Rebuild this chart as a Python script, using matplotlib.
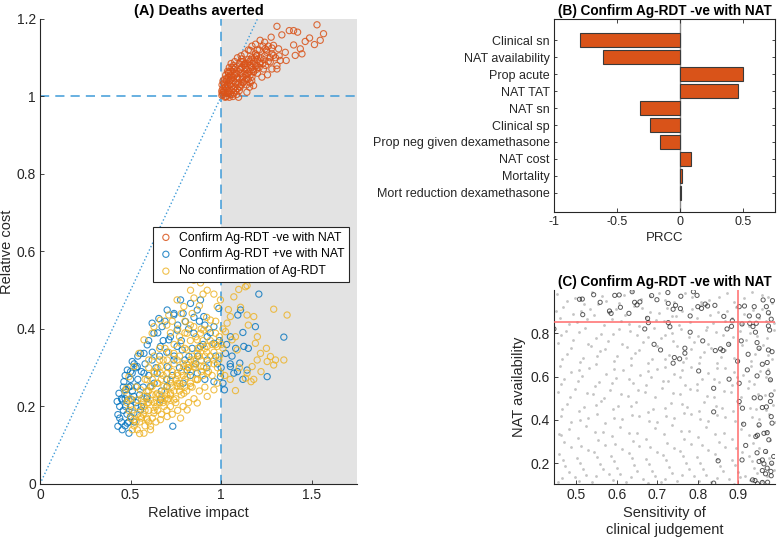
import numpy as np
import matplotlib
matplotlib.use("Agg")
import matplotlib.pyplot as plt

plt.rcParams['font.family'] = ['Liberation Sans', 'DejaVu Sans']
plt.rcParams['font.size'] = 10

# ---- Panel A: deaths averted (relative impact, relative cost) ----
orange_pts = [
    (1.308, 1.181), (1.529, 1.185), (1.376, 1.170), (1.400, 1.170), (1.422, 1.166),
    (1.335, 1.159), (1.565, 1.162), (1.547, 1.145), (1.488, 1.151), (1.464, 1.142),
    (1.515, 1.134), (1.400, 1.133), (1.437, 1.123), (1.409, 1.106), (1.446, 1.110),
    (1.354, 1.114), (1.359, 1.093), (1.326, 1.093), (1.308, 1.080), (1.280, 1.071),
    (1.215, 1.145), (1.276, 1.153), (1.289, 1.132), (1.243, 1.123), (1.160, 1.119),
    (1.197, 1.106), (1.133, 1.084), (1.105, 1.071), (1.077, 1.058), (1.050, 1.041),
    (1.022, 1.024), (1.013, 1.011), (1.096, 0.998), (1.157, 1.024), (1.225, 1.050),
    (1.256, 1.056), (1.308, 1.071), (1.179, 1.063), (1.123, 1.037), (1.068, 1.020),
    (1.041, 1.007), (1.004, 1.003), (1.215, 1.089), (1.142, 1.058), (1.087, 1.046),
    (1.289, 1.106), (1.252, 1.114), (1.317, 1.123), (1.271, 1.089), (1.197, 1.080),
    (1.114, 1.097), (1.068, 1.080), (1.041, 1.063), (1.031, 1.046), (1.059, 1.033),
    (1.105, 1.024), (1.169, 1.041), (1.234, 1.071), (1.004, 1.015), (1.022, 0.998),
    (1.142, 1.011), (1.179, 1.028),
    (1.010, 1.005), (1.020, 1.010), (1.030, 1.020), (1.040, 1.015), (1.050, 1.030),
    (1.060, 1.025), (1.070, 1.040), (1.080, 1.035), (1.090, 1.050), (1.100, 1.045),
    (1.110, 1.060), (1.120, 1.050), (1.130, 1.065), (1.140, 1.070), (1.150, 1.060),
    (1.160, 1.080), (1.170, 1.075), (1.180, 1.090), (1.190, 1.080), (1.200, 1.095),
    (1.220, 1.100), (1.240, 1.105), (1.020, 1.030), (1.030, 1.040), (1.040, 1.050),
    (1.050, 1.055), (1.060, 1.065), (1.080, 1.075), (1.100, 1.085), (1.120, 1.090),
    (1.030, 1.000), (1.050, 1.005), (1.070, 1.010), (1.090, 1.020), (1.110, 1.030),
    (1.130, 1.040), (1.150, 1.045), (1.170, 1.050), (1.020, 1.045), (1.040, 1.060),
    (1.060, 1.075), (1.010, 1.020), (1.015, 1.035), (1.025, 1.000), (1.045, 0.998),
    (1.065, 1.000), (1.085, 1.005), (1.100, 1.015), (1.140, 1.030), (1.160, 1.035),
    (1.200, 1.060), (1.210, 1.075), (1.230, 1.085), (1.260, 1.090), (1.270, 1.100),
    (1.250, 1.120), (1.230, 1.130), (1.210, 1.120), (1.190, 1.110), (1.170, 1.100),
    (1.150, 1.095), (1.130, 1.085),
    (1.005, 1.010), (1.015, 1.015), (1.025, 1.025), (1.035, 1.030), (1.045, 1.040),
    (1.055, 1.045), (1.065, 1.050), (1.075, 1.055), (1.085, 1.060), (1.095, 1.065),
    (1.105, 1.070), (1.115, 1.075), (1.125, 1.080), (1.135, 1.075), (1.145, 1.085),
    (1.155, 1.090), (1.165, 1.095), (1.175, 1.085), (1.185, 1.100), (1.195, 1.105),
    (1.035, 1.010), (1.055, 1.015), (1.075, 1.025), (1.095, 1.035), (1.115, 1.045),
    (1.135, 1.055), (1.155, 1.065), (1.175, 1.070), (1.195, 1.070), (1.215, 1.085),
    (1.025, 1.055), (1.035, 1.065), (1.045, 1.075), (1.055, 1.085), (1.075, 1.090),
    (1.090, 1.100), (1.110, 1.105), (1.130, 1.110), (1.010, 1.040), (1.005, 1.030),
    (1.060, 1.005), (1.080, 1.015), (1.100, 1.025), (1.120, 1.035), (1.140, 1.045),
    (1.160, 1.055), (1.180, 1.065), (1.235, 1.095), (1.245, 1.080), (1.280, 1.110),
    (1.300, 1.100), (1.320, 1.105), (1.150, 1.120), (1.170, 1.130), (1.190, 1.135),
    (1.200, 1.120), (1.240, 1.140), (1.260, 1.130), (1.280, 1.125), (1.110, 1.090),
    (1.070, 1.070), (1.050, 1.065),
]

blue_pts = [
    (1.208, 0.490), (1.254, 0.277), (1.189, 0.406), (1.120, 0.391), (1.103, 0.312),
    (1.092, 0.436), (1.107, 0.449), (1.051, 0.380), (1.024, 0.337), (1.051, 0.303),
    (1.070, 0.286), (1.125, 0.355), (1.143, 0.294), (1.018, 0.243), (0.996, 0.277),
    (0.960, 0.264), (0.987, 0.453), (0.960, 0.363), (0.904, 0.432), (0.886, 0.475),
    (0.868, 0.449), (0.831, 0.466), (0.776, 0.475), (0.739, 0.436), (0.702, 0.449),
    (0.656, 0.427), (0.629, 0.389), (0.592, 0.359), (0.555, 0.337), (0.509, 0.316),
    (0.482, 0.294), (0.463, 0.264), (0.472, 0.243), (0.436, 0.234), (0.426, 0.213),
    (0.430, 0.179), (0.430, 0.149), (0.454, 0.140), (0.491, 0.131), (0.500, 0.174),
    (0.509, 0.217), (0.537, 0.252), (0.574, 0.286), (0.619, 0.320), (0.665, 0.355),
    (0.711, 0.372), (0.757, 0.397), (0.803, 0.419), (0.849, 0.389), (0.886, 0.355),
    (0.923, 0.320), (0.733, 0.149), (0.647, 0.286), (0.702, 0.252), (0.739, 0.320),
    (0.785, 0.346), (0.812, 0.294), (0.592, 0.226), (0.555, 0.191), (0.518, 0.183),
    (0.472, 0.200), (0.454, 0.217), (0.482, 0.157), (0.610, 0.252), (0.665, 0.217),
    (0.702, 0.303), (0.868, 0.286), (0.923, 0.380), (0.960, 0.406), (0.757, 0.355),
    (0.822, 0.329), (0.674, 0.406), (0.619, 0.415), (0.574, 0.337), (0.537, 0.303),
    (0.509, 0.286), (0.500, 0.252), (0.518, 0.226), (1.346, 0.379),
    (0.46, 0.19), (0.47, 0.22), (0.48, 0.18), (0.49, 0.25), (0.50, 0.20), (0.51, 0.24),
    (0.52, 0.16), (0.53, 0.21), (0.54, 0.27), (0.55, 0.23), (0.56, 0.29), (0.57, 0.25),
    (0.58, 0.31), (0.60, 0.28), (0.62, 0.34), (0.64, 0.30), (0.66, 0.33), (0.68, 0.37),
    (0.70, 0.34), (0.72, 0.38), (0.74, 0.33), (0.76, 0.41), (0.78, 0.37), (0.80, 0.32),
    (0.82, 0.40), (0.84, 0.35), (0.86, 0.31), (0.88, 0.42), (0.90, 0.36), (0.92, 0.30),
    (0.94, 0.39), (0.97, 0.33), (0.99, 0.37), (1.00, 0.30), (1.03, 0.36), (1.06, 0.33),
    (1.09, 0.29), (1.12, 0.27), (1.15, 0.35), (0.45, 0.16), (0.44, 0.20), (0.47, 0.28),
    (0.50, 0.27), (0.53, 0.30), (0.56, 0.20), (0.59, 0.22), (0.63, 0.26), (0.67, 0.24),
    (0.70, 0.27), (0.73, 0.28), (0.77, 0.30), (0.79, 0.26), (0.83, 0.28), (0.87, 0.33),
    (0.91, 0.27),
    (0.44, 0.17), (0.45, 0.22), (0.46, 0.25), (0.47, 0.15), (0.48, 0.23), (0.49, 0.16),
    (0.50, 0.29), (0.52, 0.31), (0.54, 0.33), (0.60, 0.37), (0.65, 0.39), (0.69, 0.42),
    (0.74, 0.44), (0.79, 0.44), (0.85, 0.43), (0.91, 0.41), (0.98, 0.31), (1.01, 0.26),
    (1.05, 0.31), (1.08, 0.35),
]

yellow_pts = [
    (1.447, 0.542), (1.364, 0.436), (1.290, 0.451), (1.346, 0.320), (1.254, 0.316),
    (1.272, 0.329), (1.290, 0.307), (1.217, 0.337), (1.199, 0.320), (1.171, 0.303),
    (1.143, 0.286), (1.165, 0.264), (1.079, 0.241), (1.134, 0.273), (1.143, 0.436),
    (1.180, 0.432), (1.189, 0.363), (1.134, 0.509), (1.143, 0.512), (1.097, 0.502),
    (1.070, 0.483), (1.107, 0.456), (1.051, 0.432), (1.033, 0.415), (1.079, 0.380),
    (1.088, 0.346), (1.060, 0.372), (1.024, 0.393), (0.996, 0.475), (0.978, 0.458),
    (0.932, 0.535), (0.923, 0.500), (0.886, 0.519), (0.849, 0.526), (0.831, 0.500),
    (0.794, 0.458), (0.757, 0.475), (0.711, 0.436), (0.665, 0.423), (0.629, 0.406),
    (0.619, 0.389), (0.574, 0.372), (0.546, 0.337), (0.518, 0.303), (0.491, 0.277),
    (0.478, 0.247), (0.487, 0.217), (0.509, 0.191), (0.518, 0.166), (0.537, 0.140),
    (0.574, 0.131), (0.610, 0.149), (0.665, 0.166), (0.702, 0.174), (0.776, 0.170),
    (0.812, 0.191), (0.868, 0.209), (0.923, 0.226), (0.960, 0.243), (0.978, 0.260),
    (0.996, 0.286), (0.960, 0.320), (0.923, 0.355), (0.886, 0.389), (0.849, 0.406),
    (0.812, 0.389), (0.776, 0.363), (0.739, 0.337), (0.702, 0.320), (0.665, 0.303),
    (0.629, 0.286), (0.592, 0.269), (0.555, 0.243), (0.537, 0.217), (0.574, 0.200),
    (0.610, 0.217), (0.647, 0.234), (0.684, 0.252), (0.721, 0.269), (0.757, 0.286),
    (0.794, 0.303), (0.831, 0.320), (0.868, 0.337), (0.904, 0.303), (0.868, 0.269),
    (0.831, 0.252), (0.794, 0.234), (0.739, 0.217), (0.684, 0.200), (0.629, 0.183),
    (0.592, 0.166), (0.555, 0.174), (0.574, 0.226), (0.647, 0.260), (0.702, 0.286),
    (0.757, 0.320), (0.812, 0.346), (0.868, 0.372), (0.904, 0.397), (0.941, 0.423),
    (0.969, 0.389), (0.978, 0.355), (0.987, 0.320), (0.776, 0.252), (0.721, 0.234),
    (0.665, 0.286), (0.619, 0.252), (0.592, 0.209), (0.647, 0.209), (0.702, 0.217),
    (0.757, 0.252), (0.812, 0.277), (0.886, 0.303), (0.923, 0.286), (0.849, 0.303),
    (0.52, 0.15), (0.55, 0.16), (0.58, 0.15), (0.60, 0.19), (0.62, 0.17), (0.63, 0.21),
    (0.65, 0.19), (0.66, 0.23), (0.68, 0.21), (0.69, 0.24), (0.71, 0.22), (0.72, 0.26),
    (0.74, 0.24), (0.75, 0.27), (0.77, 0.26), (0.78, 0.29), (0.80, 0.27), (0.81, 0.31),
    (0.83, 0.29), (0.84, 0.33), (0.86, 0.30), (0.87, 0.35), (0.89, 0.32), (0.90, 0.37),
    (0.92, 0.34), (0.93, 0.40), (0.95, 0.36), (0.97, 0.42), (0.99, 0.38), (0.98, 0.30),
    (0.95, 0.28), (0.91, 0.25), (0.88, 0.24), (0.85, 0.22), (0.82, 0.21), (0.79, 0.20),
    (0.76, 0.19), (0.73, 0.18), (0.70, 0.19), (0.67, 0.18), (0.64, 0.16), (0.61, 0.14),
    (0.57, 0.18), (0.54, 0.20), (0.56, 0.22), (0.59, 0.24), (0.62, 0.23), (0.65, 0.26),
    (0.68, 0.28), (0.71, 0.30), (0.74, 0.31), (0.77, 0.33), (0.80, 0.35), (0.83, 0.37),
    (0.86, 0.38), (0.89, 0.40), (0.92, 0.43), (0.88, 0.46), (0.84, 0.44), (0.80, 0.42),
    (0.76, 0.40), (0.72, 0.39), (0.69, 0.35), (0.66, 0.32), (0.63, 0.29), (0.60, 0.30),
    (0.58, 0.27), (1.02, 0.28), (1.05, 0.27), (1.01, 0.35), (1.04, 0.45), (1.15, 0.41),
    (1.20, 0.38), (1.25, 0.35), (1.30, 0.32), (1.22, 0.29), (1.18, 0.27), (1.10, 0.30),
    (0.96, 0.49), (0.90, 0.49), (0.85, 0.48), (0.78, 0.44), (0.73, 0.42), (0.70, 0.41),
    (0.53, 0.25), (0.50, 0.22), (0.49, 0.19), (0.51, 0.14), (0.55, 0.13), (0.60, 0.16),
    (0.56, 0.17), (0.58, 0.19), (0.60, 0.21), (0.61, 0.25), (0.63, 0.19), (0.64, 0.23),
    (0.66, 0.21), (0.67, 0.27), (0.69, 0.22), (0.70, 0.25), (0.72, 0.23), (0.73, 0.29),
    (0.75, 0.22), (0.76, 0.28), (0.77, 0.24), (0.79, 0.31), (0.80, 0.25), (0.82, 0.30),
    (0.83, 0.26), (0.85, 0.32), (0.86, 0.27), (0.88, 0.35), (0.89, 0.29), (0.91, 0.33),
    (0.93, 0.31), (0.94, 0.37), (0.96, 0.34), (0.62, 0.27), (0.65, 0.30), (0.68, 0.32),
    (0.71, 0.34), (0.74, 0.36), (0.77, 0.38), (0.80, 0.39), (0.83, 0.41), (0.64, 0.20),
    (0.67, 0.22), (0.70, 0.23), (0.73, 0.25), (0.76, 0.26), (0.79, 0.28), (0.82, 0.30),
    (0.85, 0.31), (0.88, 0.33), (0.91, 0.35), (0.94, 0.33), (0.97, 0.36), (0.60, 0.24),
    (0.57, 0.21), (0.54, 0.18), (0.59, 0.17), (0.53, 0.16), (0.50, 0.17), (0.48, 0.21),
    (0.47, 0.24), (0.66, 0.35), (0.63, 0.33), (0.60, 0.32), (0.72, 0.20), (0.75, 0.21),
    (0.78, 0.23), (0.81, 0.24), (0.84, 0.25), (0.87, 0.27), (0.90, 0.28), (0.93, 0.29),
    (0.96, 0.31), (0.99, 0.33), (1.00, 0.36), (1.01, 0.40),
]

legend_labels = ['Confirm Ag-RDT -ve with NAT', 'Confirm Ag-RDT +ve with NAT',
                 'No confirmation of Ag-RDT']

# ---- Panel B: PRCC ----
prcc_params = ['Clinical sn', 'NAT availability', 'Prop acute', 'NAT TAT', 'NAT sn',
               'Clinical sp', 'Prop neg given dexamethasone', 'NAT cost', 'Mortality',
               'Mort reduction dexamethasone']
prcc_values = [-0.79, -0.61, 0.50, 0.46, -0.32, -0.24, -0.16, 0.088, 0.013, 0.004]

# ---- Panel C: sampled parameter sets ----
gray_pts = [
    (0.452, 0.983), (0.497, 0.962), (0.538, 0.991), (0.574, 0.948), (0.618, 0.976), (0.659, 0.957),
    (0.703, 0.988), (0.741, 0.944), (0.786, 0.969), (0.827, 0.952), (0.871, 0.985), (0.913, 0.961),
    (0.958, 0.979), (0.984, 0.941), (0.468, 0.921), (0.512, 0.903), (0.553, 0.934), (0.597, 0.912),
    (0.642, 0.927), (0.681, 0.896), (0.724, 0.918), (0.762, 0.905), (0.808, 0.931), (0.849, 0.899),
    (0.893, 0.922), (0.936, 0.908), (0.976, 0.889), (0.459, 0.872), (0.503, 0.851), (0.545, 0.883),
    (0.588, 0.864), (0.631, 0.842), (0.672, 0.876), (0.716, 0.857), (0.754, 0.838), (0.797, 0.869),
    (0.838, 0.848), (0.884, 0.871), (0.927, 0.835), (0.969, 0.858), (0.474, 0.812), (0.521, 0.826),
    (0.561, 0.797), (0.606, 0.818), (0.649, 0.791), (0.693, 0.824), (0.735, 0.802), (0.778, 0.783),
    (0.819, 0.815), (0.862, 0.794), (0.905, 0.809), (0.947, 0.786), (0.987, 0.817), (0.455, 0.756),
    (0.492, 0.771), (0.536, 0.743), (0.579, 0.764), (0.624, 0.738), (0.664, 0.759), (0.709, 0.777),
    (0.748, 0.741), (0.791, 0.762), (0.833, 0.734), (0.876, 0.752), (0.918, 0.771), (0.961, 0.746),
    (0.478, 0.703), (0.517, 0.688), (0.559, 0.717), (0.601, 0.694), (0.645, 0.709), (0.687, 0.679),
    (0.729, 0.701), (0.771, 0.686), (0.814, 0.712), (0.857, 0.691), (0.898, 0.674), (0.941, 0.705),
    (0.982, 0.683), (0.461, 0.648), (0.506, 0.631), (0.548, 0.659), (0.592, 0.637), (0.635, 0.653),
    (0.676, 0.624), (0.719, 0.646), (0.762, 0.629), (0.803, 0.661), (0.846, 0.638), (0.889, 0.619),
    (0.931, 0.651), (0.972, 0.633), (0.471, 0.587), (0.514, 0.603), (0.557, 0.576), (0.599, 0.594),
    (0.641, 0.569), (0.684, 0.598), (0.726, 0.581), (0.768, 0.562), (0.811, 0.589), (0.853, 0.573),
    (0.896, 0.596), (0.938, 0.567), (0.979, 0.584), (0.454, 0.528), (0.498, 0.543), (0.541, 0.519),
    (0.583, 0.538), (0.627, 0.512), (0.669, 0.531), (0.712, 0.548), (0.757, 0.521), (0.799, 0.539),
    (0.841, 0.508), (0.882, 0.527), (0.924, 0.546), (0.966, 0.516), (0.476, 0.472), (0.519, 0.459),
    (0.562, 0.488), (0.604, 0.466), (0.647, 0.481), (0.689, 0.452), (0.733, 0.476), (0.774, 0.461),
    (0.816, 0.484), (0.859, 0.457), (0.901, 0.473), (0.944, 0.449), (0.985, 0.468), (0.463, 0.418),
    (0.509, 0.401), (0.551, 0.429), (0.594, 0.409), (0.638, 0.424), (0.679, 0.397), (0.722, 0.416),
    (0.765, 0.432), (0.806, 0.404), (0.848, 0.421), (0.891, 0.395), (0.933, 0.413), (0.975, 0.427),
    (0.481, 0.358), (0.524, 0.372), (0.566, 0.346), (0.609, 0.365), (0.651, 0.341), (0.694, 0.361),
    (0.737, 0.377), (0.779, 0.349), (0.821, 0.368), (0.864, 0.338), (0.907, 0.357), (0.949, 0.374),
    (0.457, 0.335), (0.469, 0.296), (0.511, 0.281), (0.554, 0.309), (0.596, 0.288), (0.639, 0.303),
    (0.682, 0.275), (0.724, 0.294), (0.767, 0.311), (0.809, 0.283), (0.851, 0.299), (0.894, 0.272),
    (0.936, 0.291), (0.977, 0.306), (0.458, 0.241), (0.501, 0.226), (0.543, 0.253), (0.586, 0.232),
    (0.629, 0.247), (0.673, 0.219), (0.714, 0.238), (0.756, 0.255), (0.798, 0.227), (0.842, 0.244),
    (0.884, 0.216), (0.926, 0.235), (0.968, 0.251), (0.473, 0.186), (0.516, 0.171), (0.558, 0.198),
    (0.601, 0.177), (0.643, 0.192), (0.686, 0.164), (0.728, 0.183), (0.771, 0.199), (0.813, 0.172),
    (0.855, 0.188), (0.898, 0.161), (0.939, 0.179), (0.981, 0.194), (0.464, 0.131), (0.507, 0.117),
    (0.549, 0.143), (0.591, 0.122), (0.634, 0.138), (0.677, 0.109), (0.719, 0.128), (0.761, 0.145),
    (0.803, 0.116), (0.846, 0.133), (0.888, 0.106), (0.929, 0.124), (0.971, 0.139),
    (0.476, 0.947), (0.519, 0.936), (0.563, 0.971), (0.605, 0.941), (0.637, 0.993), (0.682, 0.972),
    (0.719, 0.952), (0.768, 0.986), (0.807, 0.946), (0.852, 0.968), (0.889, 0.944), (0.934, 0.992),
    (0.972, 0.966), (0.449, 0.902), (0.491, 0.888), (0.534, 0.913), (0.579, 0.897), (0.621, 0.884),
    (0.661, 0.915), (0.703, 0.892), (0.745, 0.878), (0.786, 0.911), (0.829, 0.883), (0.872, 0.904),
    (0.914, 0.887), (0.957, 0.914), (0.483, 0.845), (0.526, 0.867), (0.569, 0.839), (0.611, 0.856),
    (0.654, 0.832), (0.697, 0.861), (0.737, 0.879), (0.781, 0.851), (0.823, 0.829), (0.866, 0.859),
    (0.909, 0.841), (0.951, 0.872), (0.989, 0.847), (0.463, 0.792), (0.506, 0.805), (0.549, 0.778),
    (0.591, 0.797), (0.633, 0.812), (0.676, 0.784), (0.718, 0.793), (0.759, 0.819), (0.801, 0.788),
    (0.844, 0.807), (0.886, 0.781), (0.928, 0.799), (0.971, 0.779), (0.487, 0.734), (0.529, 0.749),
    (0.571, 0.726), (0.613, 0.752), (0.655, 0.721), (0.698, 0.742), (0.739, 0.764), (0.782, 0.729),
    (0.825, 0.751), (0.867, 0.722), (0.908, 0.745), (0.952, 0.727), (0.466, 0.681), (0.509, 0.669),
    (0.551, 0.694), (0.594, 0.672), (0.636, 0.687), (0.678, 0.661), (0.720, 0.683), (0.763, 0.667),
    (0.805, 0.692), (0.847, 0.665), (0.889, 0.687), (0.932, 0.672), (0.974, 0.699), (0.488, 0.623),
    (0.531, 0.641), (0.573, 0.614), (0.615, 0.631), (0.657, 0.607), (0.699, 0.636), (0.742, 0.611),
    (0.784, 0.642), (0.826, 0.618), (0.868, 0.639), (0.911, 0.608), (0.953, 0.628), (0.462, 0.566),
    (0.504, 0.579), (0.546, 0.558), (0.588, 0.572), (0.630, 0.591), (0.672, 0.563), (0.715, 0.578),
    (0.757, 0.596), (0.798, 0.566), (0.841, 0.589), (0.883, 0.561), (0.925, 0.579), (0.967, 0.597),
    (0.484, 0.508), (0.527, 0.522), (0.569, 0.501), (0.611, 0.518), (0.653, 0.536), (0.695, 0.507),
    (0.738, 0.524), (0.781, 0.542), (0.822, 0.511), (0.864, 0.532), (0.906, 0.504), (0.948, 0.521),
    (0.988, 0.538), (0.465, 0.452), (0.507, 0.441), (0.549, 0.467), (0.591, 0.448), (0.634, 0.463),
    (0.676, 0.436), (0.718, 0.455), (0.760, 0.472), (0.802, 0.443), (0.844, 0.465), (0.886, 0.439),
    (0.928, 0.456), (0.969, 0.444), (0.486, 0.392), (0.529, 0.408), (0.571, 0.387), (0.613, 0.402),
    (0.656, 0.419), (0.698, 0.391), (0.741, 0.409), (0.783, 0.426), (0.825, 0.395), (0.867, 0.413),
    (0.909, 0.386), (0.951, 0.404), (0.990, 0.392), (0.462, 0.332), (0.505, 0.318), (0.547, 0.345),
    (0.589, 0.326), (0.631, 0.341), (0.673, 0.314), (0.716, 0.333), (0.758, 0.349), (0.800, 0.321),
    (0.843, 0.337), (0.885, 0.312), (0.927, 0.329), (0.970, 0.348), (0.487, 0.273), (0.530, 0.259),
    (0.572, 0.286), (0.614, 0.266), (0.656, 0.281), (0.699, 0.253), (0.741, 0.272), (0.783, 0.288),
    (0.826, 0.261), (0.868, 0.277), (0.910, 0.251), (0.952, 0.268), (0.467, 0.214), (0.509, 0.201),
    (0.551, 0.227), (0.594, 0.208), (0.637, 0.223), (0.679, 0.196), (0.721, 0.214), (0.764, 0.231),
    (0.806, 0.203), (0.848, 0.219), (0.891, 0.193), (0.933, 0.211), (0.975, 0.224), (0.482, 0.158),
    (0.524, 0.144), (0.566, 0.171), (0.609, 0.151), (0.651, 0.166), (0.694, 0.139), (0.736, 0.157),
    (0.778, 0.174), (0.820, 0.146), (0.863, 0.162), (0.905, 0.136), (0.947, 0.154), (0.989, 0.169),
    (0.454, 0.112), (0.497, 0.135), (0.539, 0.114), (0.581, 0.152), (0.623, 0.113), (0.665, 0.127),
    (0.708, 0.111), (0.749, 0.118), (0.791, 0.139), (0.833, 0.112), (0.876, 0.128), (0.917, 0.142),
    (0.959, 0.118),
]

black_pts = [
    (0.508, 0.957), (0.515, 0.958), (0.543, 0.978), (0.559, 0.943), (0.516, 0.886), (0.582, 0.903),
    (0.586, 0.892), (0.595, 0.975), (0.606, 0.977), (0.609, 0.920), (0.630, 0.892), (0.638, 0.992),
    (0.644, 0.943), (0.650, 0.931), (0.657, 0.945), (0.676, 0.869), (0.678, 0.849), (0.669, 0.820),
    (0.686, 0.974), (0.699, 0.955), (0.692, 0.749), (0.708, 0.723), (0.726, 0.988), (0.727, 0.938),
    (0.727, 0.849), (0.731, 0.830), (0.739, 0.911), (0.745, 0.929), (0.758, 0.971), (0.757, 0.914),
    (0.739, 0.662), (0.742, 0.688), (0.755, 0.682), (0.768, 0.731), (0.768, 0.708), (0.781, 0.880),
    (0.781, 0.805), (0.789, 0.992), (0.798, 0.975), (0.800, 0.923), (0.809, 0.915), (0.802, 0.626),
    (0.812, 0.765), (0.818, 0.935), (0.824, 0.926), (0.842, 0.929), (0.839, 0.546), (0.839, 0.437),
    (0.843, 0.720), (0.850, 0.211), (0.856, 0.728), (0.862, 0.720), (0.864, 0.878), (0.872, 0.820),
    (0.877, 0.588), (0.876, 0.749), (0.883, 0.832), (0.885, 0.858), (0.839, 0.108), (0.898, 0.671),
    (0.902, 0.923), (0.902, 0.569), (0.902, 0.485), (0.909, 0.843), (0.907, 0.765), (0.909, 0.215),
    (0.910, 0.454), (0.913, 0.380), (0.915, 0.926), (0.918, 0.282), (0.922, 0.631), (0.927, 0.880),
    (0.924, 0.703), (0.928, 0.846), (0.936, 0.831), (0.942, 0.805), (0.944, 0.846), (0.946, 0.757),
    (0.951, 0.731), (0.939, 0.923), (0.949, 0.880), (0.961, 0.954), (0.969, 0.923), (0.974, 0.895),
    (0.984, 0.951), (0.959, 0.657), (0.946, 0.603), (0.939, 0.502), (0.954, 0.502), (0.959, 0.457),
    (0.969, 0.460), (0.951, 0.377), (0.947, 0.329), (0.943, 0.323), (0.963, 0.338), (0.971, 0.341),
    (0.981, 0.415), (0.983, 0.385), (0.979, 0.485), (0.981, 0.515), (0.973, 0.618), (0.979, 0.585),
    (0.971, 0.665), (0.974, 0.723), (0.983, 0.715), (0.977, 0.815), (0.981, 0.865), (0.974, 0.834),
    (0.946, 0.248), (0.951, 0.208), (0.959, 0.215), (0.963, 0.197), (0.971, 0.177), (0.980, 0.162),
    (0.982, 0.200), (0.987, 0.231), (0.967, 0.254), (0.975, 0.308), (0.935, 0.123), (0.941, 0.120),
    (0.947, 0.105), (0.959, 0.111), (0.972, 0.112), (0.981, 0.142), (0.959, 0.166), (0.967, 0.151),
    (0.445, 0.820),
]
sens_threshold = 0.9
avail_threshold = 0.85

ORANGE = '#D95319'
BLUE = '#0072BD'
YELLOW = '#EDB120'
LINEBLUE = '#3E9BD8'
AXCOL = '#262626'


def style_axes(ax, box=False, labelsize=10):
    for side in ['top', 'right']:
        ax.spines[side].set_visible(box)
    for sp in ax.spines.values():
        sp.set_color(AXCOL)
        sp.set_linewidth(0.8)
    ax.tick_params(direction='in', length=3, width=0.6, colors=AXCOL,
                   labelsize=labelsize, top=box, right=box, pad=3)


fig = plt.figure(figsize=(7.78, 5.41), dpi=100)

# Panel A
axA = fig.add_axes([0.0514, 0.1054, 0.4075, 0.8595])
axA.axvspan(1, 1.75, color='#e3e3e3', zorder=0, lw=0)
axA.plot([0, 1.2], [0, 1.2], ':', color=LINEBLUE, lw=1, zorder=1)
axA.axvline(1, color=LINEBLUE, ls=(0, (6, 4)), lw=1.1, zorder=1)
axA.axhline(1, color=LINEBLUE, ls=(0, (6, 4)), lw=1.1, zorder=1)

ox, oy = zip(*orange_pts)
bx, by = zip(*blue_pts)
yx, yy = zip(*yellow_pts)
axA.scatter(ox, oy, s=20, facecolors='none', edgecolors=ORANGE, linewidths=0.8,
            alpha=0.85, label=legend_labels[0], zorder=2)
axA.scatter(bx, by, s=20, facecolors='none', edgecolors=BLUE, linewidths=0.8,
            alpha=0.8, label=legend_labels[1], zorder=3)
axA.scatter(yx, yy, s=20, facecolors='none', edgecolors=YELLOW, linewidths=0.8,
            alpha=0.8, label=legend_labels[2], zorder=4)
axA.set_xlim(0, 1.75)
axA.set_ylim(0, 1.2)
axA.set_xticks([0, 0.5, 1, 1.5])
axA.set_xticklabels(['0', '0.5', '1', '1.5'])
axA.set_yticks([0, 0.2, 0.4, 0.6, 0.8, 1, 1.2])
axA.set_yticklabels(['0', '0.2', '0.4', '0.6', '0.8', '1', '1.2'])
style_axes(axA)
axA.set_xlabel('Relative impact', fontsize=10.5, color=AXCOL, labelpad=3)
axA.set_ylabel('Relative cost', fontsize=10.5, color=AXCOL, labelpad=2)
axA.set_title('(A) Deaths averted', fontsize=10.5, fontweight='bold', pad=3)
leg = axA.legend(loc='upper right', bbox_to_anchor=(0.975, 0.552), fontsize=8.8,
                 frameon=True, fancybox=False, handletextpad=0.4, borderpad=0.35,
                 labelspacing=0.4, handlelength=1.4, borderaxespad=0)
leg.get_frame().set_edgecolor(AXCOL)
leg.get_frame().set_linewidth(0.8)
leg.get_frame().set_alpha(1)

# Panel B
axB = fig.add_axes([0.712, 0.608, 0.284, 0.3567])
ypos = np.arange(1, len(prcc_params) + 1)
axB.barh(ypos, prcc_values, height=0.85, color=ORANGE, edgecolor='#3a3a3a', linewidth=0.8,
         zorder=2)
axB.axvline(0, color='#8c8c8c', lw=1, zorder=1)
axB.set_yticks(ypos)
axB.set_yticklabels(prcc_params)
axB.set_ylim(11.13, -0.24)
axB.set_xlim(-1, 0.75)
axB.set_xticks([-1, -0.5, 0, 0.5])
axB.set_xticklabels(['-1', '-0.5', '0', '0.5'])
style_axes(axB, box=True, labelsize=9)
axB.tick_params(axis='y', length=2)
axB.set_xlabel('PRCC', fontsize=9.5, color=AXCOL, labelpad=3)
axB.set_title('(B) Confirm Ag-RDT -ve with NAT', fontsize=9.8, fontweight='bold', pad=3)

# Panel C
axC = fig.add_axes([0.712, 0.1054, 0.284, 0.3586])
gx, gy = zip(*gray_pts)
kx, ky = zip(*black_pts)
axC.scatter(gx, gy, s=4, color='#c4c4c4', lw=0, zorder=1)
axC.scatter(kx, ky, s=9, facecolors='none', edgecolors='#222222', linewidths=0.7,
            alpha=0.75, zorder=2)
axC.axvline(sens_threshold, color='#ff6b6b', lw=1.1, zorder=3)
axC.axhline(avail_threshold, color='#ff6b6b', lw=1.1, zorder=3)
axC.set_xlim(0.445, 0.99)
axC.set_ylim(0.104, 1.0)
axC.set_xticks([0.5, 0.6, 0.7, 0.8, 0.9])
axC.set_yticks([0.2, 0.4, 0.6, 0.8])
style_axes(axC)
axC.set_xlabel('Sensitivity of\nclinical judgement', fontsize=10.5, color=AXCOL, labelpad=3)
axC.set_ylabel('NAT availability', fontsize=10.5, color=AXCOL, labelpad=3)
axC.set_title('(C) Confirm Ag-RDT -ve with NAT', fontsize=9.8, fontweight='bold', pad=3)

fig.savefig('out.png', dpi=100)
